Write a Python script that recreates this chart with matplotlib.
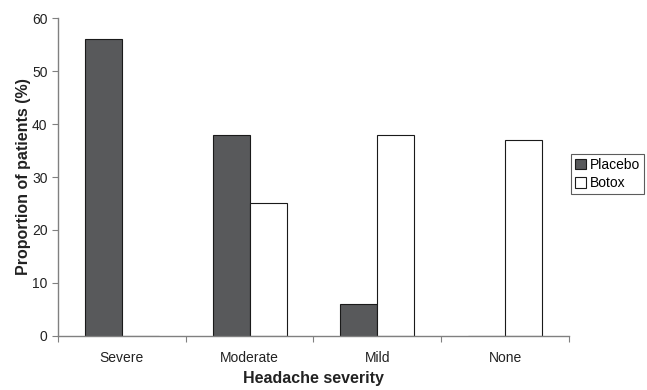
import matplotlib
matplotlib.use("Agg")
import matplotlib.pyplot as plt
import numpy as np

plt.rcParams['font.family'] = ['Liberation Sans', 'DejaVu Sans']

categories = ["Severe", "Moderate", "Mild", "None"]
placebo = [56, 38, 6, 0]
botox = [0, 25, 38, 37]
yticks = [0, 10, 20, 30, 40, 50, 60]

fig = plt.figure(figsize=(6.47, 3.90), dpi=100)
ax = fig.add_axes([0.0896, 0.1385, 0.7898, 0.8153])

x = np.arange(len(categories))
w = 0.29
ax.bar(x - w / 2, placebo, width=w, color="#58595b", edgecolor="#1a1a1a", linewidth=0.8, label="Placebo")
ax.bar(x + w / 2, botox, width=w, color="white", edgecolor="#1a1a1a", linewidth=0.8, label="Botox")

ax.set_xlim(-0.5, len(categories) - 0.5)
ax.set_ylim(0, 60)
ax.set_yticks(yticks)
ax.set_xticks(np.arange(len(categories) + 1) - 0.5)
ax.set_xticklabels([])
ax.set_xticks(x, minor=True)
ax.set_xticklabels(categories, minor=True)
ax.tick_params(axis="x", which="major", length=4, direction="out", color="#808080")
ax.tick_params(axis="x", which="minor", length=0, pad=11, labelsize=10, labelcolor="#222222")
ax.tick_params(axis="y", length=4, direction="out", color="#808080", labelsize=10, labelcolor="#222222")

for s in ["top", "right"]:
    ax.spines[s].set_visible(False)
for s in ["left", "bottom"]:
    ax.spines[s].set_color("#808080")
    ax.spines[s].set_linewidth(1.0)

ax.set_xlabel("Headache severity", fontsize=11.5, fontweight="bold", labelpad=4, color="#222222")
ax.set_ylabel("Proportion of patients (%)", fontsize=11.5, fontweight="bold", labelpad=1, color="#222222")

leg = fig.legend(loc="center left", bbox_to_anchor=(0.882, 0.554), fontsize=10,
                 frameon=True, fancybox=False, edgecolor="#333333",
                 handlelength=0.8, handleheight=0.8, handletextpad=0.25,
                 borderpad=0.3, labelspacing=0.3, borderaxespad=0)
leg.get_frame().set_linewidth(0.8)

fig.savefig("out.png", dpi=100)
